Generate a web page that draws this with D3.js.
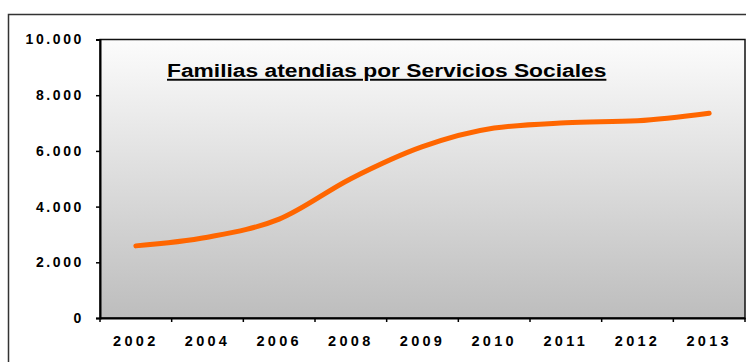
<!DOCTYPE html>
<html>
<head>
<meta charset="utf-8">
<script src="https://cdn.jsdelivr.net/npm/d3@7"></script>
<style>
  body { margin: 0; background: #fff; }
  svg text { font-family: Arial, "Liberation Sans", sans-serif; font-weight: bold; }
</style>
</head>
<body>
<div id="chart"></div>
<script>
// datos
var years = ["2002", "2004", "2006", "2008", "2009", "2010", "2011", "2012", "2013"];
var familias = [2590, 2900, 3550, 5000, 6150, 6820, 7010, 7080, 7350];
var yTicks = [0, 2000, 4000, 6000, 8000, 10000];
var title = "Familias atendias por Servicios Sociales";

var width = 746,
    height = 362,
    plot = {left: 100, top: 39.5, right: 745, bottom: 318};

var es = d3.formatLocale({decimal: ",", thousands: ".", grouping: [3], currency: ["", " €"]});
var fmt = es.format(",");

var svg = d3.select("#chart")
    .append("svg")
    .attr("width", width)
    .attr("height", height);

// marco exterior
svg.append("rect")
    .attr("x", 8.5).attr("y", 14.5)
    .attr("width", 760).attr("height", 360)
    .attr("fill", "#fff")
    .attr("stroke", "#333")
    .attr("stroke-width", 1.5);

var grad = svg.append("defs").append("linearGradient")
    .attr("id", "bg")
    .attr("x1", 0).attr("y1", 0).attr("x2", 0).attr("y2", 1);
grad.append("stop").attr("offset", "0%").attr("stop-color", "#fcfcfc");
grad.append("stop").attr("offset", "100%").attr("stop-color", "#bdbdbd");

var x = d3.scaleBand().domain(years).range([plot.left, plot.right]);
var y = d3.scaleLinear().domain([0, 10000]).range([plot.bottom, plot.top]);

svg.append("rect")
    .attr("x", plot.left).attr("y", plot.top)
    .attr("width", plot.right - plot.left).attr("height", plot.bottom - plot.top)
    .attr("fill", "url(#bg)")
    .attr("stroke", "#111")
    .attr("stroke-width", 1.5);

// eje Y
var yAxis = svg.append("g")
    .attr("transform", "translate(" + plot.left + ",0)")
    .call(d3.axisLeft(y).tickValues(yTicks).tickSize(4).tickPadding(12).tickFormat(fmt));
yAxis.select(".domain").attr("stroke", "#000").attr("stroke-width", 2);
yAxis.selectAll(".tick line").attr("stroke", "#000").attr("stroke-width", 1.5);
yAxis.selectAll("text")
    .attr("font-size", 14)
    .attr("letter-spacing", "2.6px")
    .attr("fill", "#000");

// eje X
var xAxis = svg.append("g")
    .attr("transform", "translate(0," + plot.bottom + ")")
    .call(d3.axisBottom(x).tickSize(0).tickPadding(18));
xAxis.select(".domain").attr("stroke", "#000").attr("stroke-width", 2);
xAxis.selectAll("text")
    .attr("font-size", 14.5)
    .attr("letter-spacing", "3.3px")
    .attr("fill", "#000");

var bounds = years.map(function(d) { return x(d); }).concat([x.range()[1]]);
svg.append("g").selectAll("line")
    .data(bounds).enter()
    .append("line")
    .attr("x1", function(d) { return d; })
    .attr("x2", function(d) { return d; })
    .attr("y1", plot.bottom)
    .attr("y2", plot.bottom + 4)
    .attr("stroke", "#000")
    .attr("stroke-width", 1.5);

// línea
var line = d3.line()
    .x(function(d, i) { return x(years[i]) + x.bandwidth() / 2; })
    .y(function(d) { return y(d); })
    .curve(d3.curveMonotoneX);

svg.append("path")
    .datum(familias)
    .attr("d", line)
    .attr("fill", "none")
    .attr("stroke", "#ff6600")
    .attr("stroke-width", 5)
    .attr("stroke-linecap", "round")
    .attr("stroke-linejoin", "round");

// título (Excel lo dibuja más ancho)
svg.append("text")
    .attr("transform", "translate(167,77) scale(1.2,1)")
    .attr("font-size", 19)
    .attr("text-decoration", "underline")
    .attr("fill", "#000")
    .text(title);
</script>
</body>
</html>
